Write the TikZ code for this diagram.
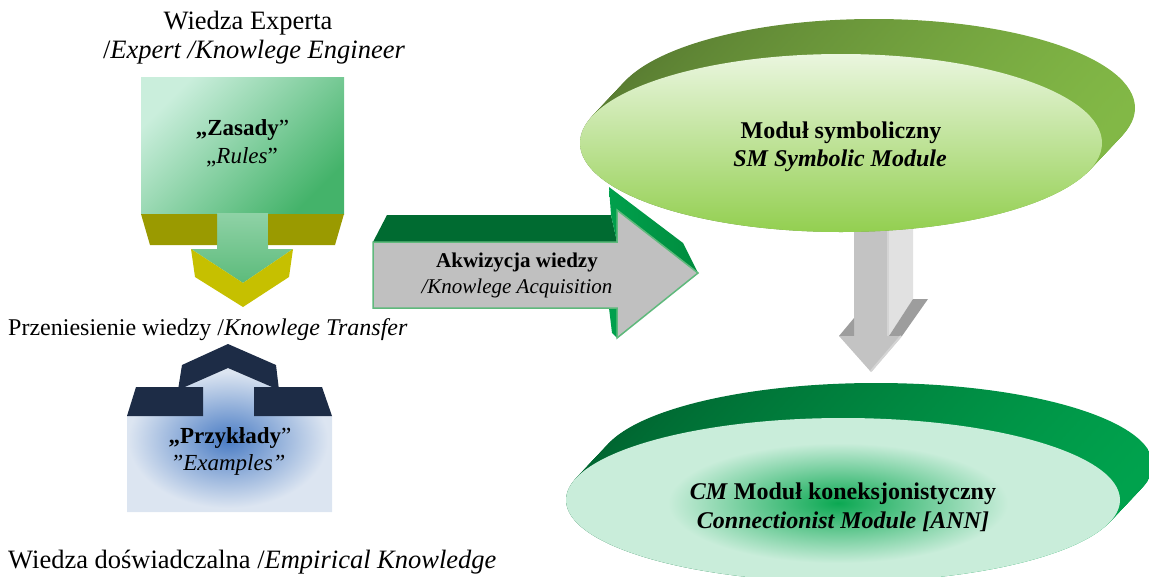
\documentclass[tikz,border=0pt]{standalone}
\usepackage{fontspec}
\setmainfont{Liberation Serif}
\definecolor{rulesL}{HTML}{CAEEDC}
\definecolor{rulesD}{HTML}{44B36A}
\definecolor{stemT}{HTML}{8FD2A6}
\definecolor{stemB}{HTML}{5CBB7B}
\definecolor{olive}{HTML}{9A9A00}
\definecolor{yell}{HTML}{C6C000}
\definecolor{navy}{HTML}{1D2C46}
\definecolor{exLight}{HTML}{DCE5F1}
\definecolor{exBlue}{HTML}{4A7CC4}
\definecolor{arrGray}{HTML}{C0C0C0}
\definecolor{arrEdge}{HTML}{5FB97C}
\definecolor{arrTop}{HTML}{006B31}
\definecolor{arrSide}{HTML}{008C3E}
\definecolor{arrSideL}{HTML}{00A04C}
\definecolor{olL}{HTML}{587B31}
\definecolor{olR}{HTML}{82B846}
\definecolor{smT}{HTML}{EAF6DF}
\definecolor{smB}{HTML}{93CF50}
\definecolor{cmL}{HTML}{006430}
\definecolor{cmR}{HTML}{00A24D}
\definecolor{cmF}{HTML}{C9EDDA}
\definecolor{cmC}{HTML}{0BA852}
\definecolor{gA}{HTML}{C3C3C3}
\definecolor{gB}{HTML}{E1E1E1}
\definecolor{gC}{HTML}{9D9D9D}
\definecolor{gD}{HTML}{D4D4D4}
\tikzset{
  lbl/.style={inner sep=0pt, anchor=base},
  lblw/.style={inner sep=0pt, anchor=base west},
  bigtxt/.style={font=\fontsize{26.5}{30}\selectfont},
  midtxt/.style={font=\fontsize{24}{28}\selectfont},
  boxtxt/.style={font=\fontsize{23}{27}\selectfont},
  arrtxt/.style={font=\fontsize{21}{25}\selectfont},
}
\begin{document}
\begin{tikzpicture}[x=1pt,y=-1pt]
\useasboundingbox (0,0) rectangle (1149,576);
\clip (0,0) rectangle (1149,576);

% ---- Rules arrow (down) ----
\shade[top color=rulesL, bottom color=rulesD, shading angle=45]
  (141,77) rectangle (344,214);
\shade[top color=stemT, bottom color=stemB]
  (217,213) -- (268,213) -- (268,249) -- (293,249) -- (243,283) -- (191,249) -- (217,249) -- cycle;
\fill[olive] (141,214) -- (217,214) -- (217,245) -- (150,245) -- cycle;
\fill[olive] (268,214) -- (344,214) -- (335,245) -- (268,245) -- cycle;
\fill[yell] (191,249) -- (243,283) -- (293,249) -- (289,277) -- (243,307) -- (195,277) -- cycle;

% ---- Examples arrow (up) ----
\fill[exLight] (127,416) -- (203,416) -- (203,390) -- (178,390) -- (228,368) -- (279,390)
  -- (254,390) -- (254,416) -- (332,416) -- (332,512) -- (127,512) -- cycle;
\begin{scope}
  \clip (127,416) -- (203,416) -- (203,390) -- (178,390) -- (228,368) -- (279,390)
    -- (254,390) -- (254,416) -- (332,416) -- (332,512) -- (127,512) -- cycle;
  \shade[inner color=exBlue, outer color=exLight] (228,440) ellipse [x radius=100, y radius=68];
\end{scope}
\fill[navy] (178,390) -- (182,365) -- (228,344) -- (276,365) -- (279,390) -- (228,368) -- cycle;
\fill[navy] (127,416) -- (136,387) -- (203,387) -- (203,416) -- cycle;
\fill[navy] (254,387) -- (322,387) -- (332,416) -- (254,416) -- cycle;

% ---- Acquisition arrow (right) ----
\fill[arrTop] (373,242) -- (387,215) -- (611,215) -- (617,242) -- cycle;
\shade[left color=arrSideL, right color=arrSide]
  (609,187) -- (683,243) -- (698,273) -- (617,210) -- (617,242) -- (611,215) -- cycle;
\fill[arrSideL] (609,308) -- (617,308) -- (617,338) -- (612,333) -- cycle;
\filldraw[fill=arrGray, draw=arrEdge, line width=1.5pt, line join=miter]
  (373,242) -- (617,242) -- (617,210) -- (698,273) -- (617,338) -- (617,308) -- (373,308) -- cycle;

% ---- Grey down arrow ----
\fill[gA] (854,220) rectangle (887,336);
\fill[gD] (887,220) rectangle (890,336);
\fill[gB] (890,220) -- (913,220) -- (913,299) -- (889,336) -- (889,220) -- cycle;
\fill[gC] (913,299) -- (928,299) -- (902,336) -- (889,336) -- cycle;
\fill[gC] (839,336) -- (854,318) -- (854,336) -- cycle;
\fill[gA] (839,336) -- (902,336) -- (871,372) -- cycle;
\draw[gD, line width=2pt] (871,371) -- (901,336);

% ---- Symbolic module ellipse ----
\foreach \i in {0,...,24}{
  \shade[left color=olL, right color=olR]
    ({874-33*\i/24},{108+35*\i/24}) ellipse [x radius=261, y radius=89];
}
\shade[top color=smT, bottom color=smB] (841,143) ellipse [x radius=261, y radius=89];

% ---- Connectionist module ellipse ----
\foreach \i in {0,...,24}{
  \shade[left color=cmL, right color=cmR]
    ({876-33*\i/24},{465+35*\i/24}) ellipse [x radius=277, y radius=82];
}
\fill[cmF] (843,500) ellipse [x radius=277, y radius=82];
\shade[inner color=cmC, outer color=cmF] (838,503) ellipse [x radius=170, y radius=60];

% ---- Texts ----
\node[lbl, bigtxt] (we1) at (248,29) {Wiedza Experta};
\node[lbl, bigtxt] (we2) at (254,58) {/\textit{Expert /Knowlege Engineer}};
\node[lbl, boxtxt] (zas1) at (242.5,135) {\textbf{„Zasady}”};
\node[lbl, boxtxt] (zas2) at (242,163) {„\textit{Rules}”};
\node[lblw, midtxt] (prz) at (8,335) {Przeniesienie wiedzy /\textit{Knowlege Transfer}};
\node[lbl, boxtxt] (ex1) at (230,443) {\textbf{„Przykłady}”};
\node[lbl, boxtxt] (ex2) at (228,470) {\textit{”Examples”}};
\node[lblw, bigtxt] (emp) at (8,568) {Wiedza doświadczalna /\textit{Empirical Knowledge}};
\node[lbl, arrtxt] (ak1) at (517,267) {\textbf{Akwizycja wiedzy}};
\node[lbl, arrtxt] (ak2) at (517,293) {\textit{/Knowlege Acquisition}};
\node[lbl, midtxt] (sm1) at (841,138) {\textbf{Moduł symboliczny}};
\node[lbl, midtxt] (sm2) at (840,166) {\textbf{\textit{SM Symbolic Module}}};
\node[lbl, midtxt] (cm1) at (843,499) {\textbf{\textit{CM} Moduł koneksjonistyczny}};
\node[lbl, midtxt] (cm2) at (843,528) {\textbf{\textit{Connectionist Module [ANN]}}};
\end{tikzpicture}
\end{document}
